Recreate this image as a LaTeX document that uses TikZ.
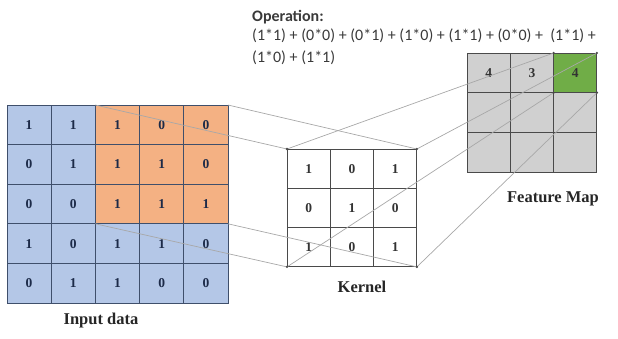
\documentclass[tikz,border=0pt]{standalone}
\usepackage{fontspec}
\setmainfont{Liberation Serif}
\newfontfamily\opfont{Carlito}
\definecolor{blfill}{HTML}{B4C7E7}
\definecolor{orfill}{HTML}{F4B183}
\definecolor{gyfill}{HTML}{D0D0D0}
\definecolor{grfill}{HTML}{70AD47}
\definecolor{ingrid}{HTML}{3F4F6B}
\definecolor{kgrid}{HTML}{4A4A4A}
\definecolor{conncol}{HTML}{A8A8A8}
\definecolor{intext}{HTML}{1C2A48}
\definecolor{optext}{HTML}{3A3A3A}
\begin{document}
\begin{tikzpicture}[x=1pt,y=-1pt,
  incell/.style={draw=ingrid, line width=0.9pt, minimum width=44.2pt, minimum height=39.6pt,
    inner sep=0pt, outer sep=0pt, font=\fontsize{13.5}{15}\selectfont\bfseries, text=intext},
  kcell/.style={draw=kgrid, line width=0.9pt, fill=white, minimum width=43.3pt, minimum height=39.3pt,
    inner sep=0pt, outer sep=0pt, font=\fontsize{13.5}{15}\selectfont\bfseries, text=black!80},
  fcell/.style={draw=kgrid, line width=0.9pt, minimum width=43.3pt, minimum height=39.7pt,
    inner sep=0pt, outer sep=0pt, font=\fontsize{13.5}{15}\selectfont\bfseries, text=black!80},
  conn/.style={draw=conncol, line width=0.7pt},
  cdot/.style={fill=kgrid},
  lbl/.style={font=\fontsize{16.5}{18}\selectfont\bfseries, text=black!85, inner sep=0pt},
  optxt/.style={font=\opfont\fontsize{16}{18}\selectfont, text=optext, inner sep=0pt, anchor=west}]
\useasboundingbox (0,0) rectangle (618,338);
% input data
\foreach \row [count=\r] in {{1,1,1,0,0},{0,1,1,1,0},{0,0,1,1,1},{1,0,1,1,0},{0,1,1,0,0}}{
  \foreach \v [count=\c] in \row {
    \ifnum\r<4 \ifnum\c>2 \def\fc{orfill}\else\def\fc{blfill}\fi\else\def\fc{blfill}\fi
    \node[incell, fill=\fc] (in-\r-\c) at ({7+44.2*(\c-0.5)}, {105+39.6*(\r-0.5)}) {\v};
  }
}
% kernel
\foreach \row [count=\r] in {{1,0,1},{0,1,0},{1,0,1}}{
  \foreach \v [count=\c] in \row {
    \node[kcell] (k-\r-\c) at ({287+43.3*(\c-0.5)}, {149+39.3*(\r-0.5)}) {\v};
  }
}
% feature map
\foreach \v [count=\c] in {4,3,4}{
  \ifnum\c=3 \def\fc{grfill}\else\def\fc{gyfill}\fi
  \node[fcell, fill=\fc] (f-1-\c) at ({467+43.3*(\c-0.5)}, {53+39.7*0.5}) {\v};
}
\foreach \r in {2,3}{
  \foreach \c in {1,2,3}{
    \node[fcell, fill=gyfill] (f-\r-\c) at ({467+43.3*(\c-0.5)}, {53+39.7*(\r-0.5)}) {};
  }
}
% connectors
\draw[conn] (in-1-3.north west) -- (k-1-1.north west);
\draw[conn] (in-1-5.north east) -- (k-1-3.north east);
\draw[conn] (in-3-3.south west) -- (k-3-1.south west);
\draw[conn] (in-3-5.south east) -- (k-3-3.south east);
\draw[conn] (k-1-1.north west) -- (f-1-3.north west);
\draw[conn] (k-1-3.north east) -- (f-1-3.north east);
\draw[conn] (k-3-1.south west) -- (f-1-3.south west);
\draw[conn] (k-3-3.south east) -- (f-1-3.south east);
\foreach \a in {k-1-1.north west,k-1-3.north east,k-3-1.south west,k-3-3.south east,
  f-1-3.north west,f-1-3.north east,f-1-3.south west,f-1-3.south east}{
  \fill[cdot] (\a) circle (1.3pt);
}
% labels
\node[lbl] (lin) at (101,321) {Input data};
\node[lbl] (lk) at (362,287) {Kernel};
\node[lbl] (lf) at (553,199) {Feature Map};
% operation
\node[optxt, font=\opfont\fontsize{16}{18}\selectfont\bfseries] (op1) at (252,17) {Operation:};
\node[optxt] (op2) at (252,36) {(1*1) + (0*0) + (0*1) + (1*0) + (1*1) + (0*0) +\ \ (1*1) +};
\node[optxt] (op3) at (252,58) {(1*0) + (1*1)};
\end{tikzpicture}
\end{document}
